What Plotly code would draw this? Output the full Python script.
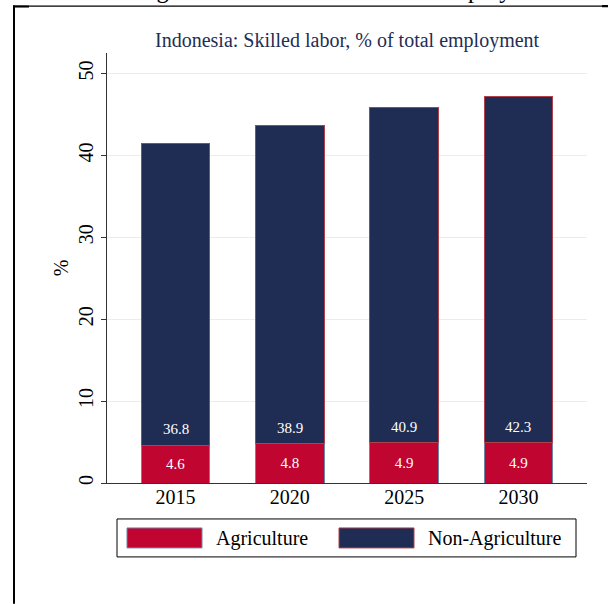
import plotly.graph_objects as go

years = ["2015", "2020", "2025", "2030"]
agriculture = [4.6, 4.8, 4.9, 4.9]
non_agriculture = [36.8, 38.9, 40.9, 42.3]
y_ticks = [0, 10, 20, 30, 40, 50]

RED = "#C00530"
NAVY = "#1F2D54"
FONT = "Liberation Serif"

W, H = 608, 604
L, R, T, B = 107, 21, 52.5, 121
PW, PH = W - L - R, H - T - B


def px(x):
    return (x - L) / PW


def py(y):
    return (H - B - y) / PH


fig = go.Figure()
fig.add_trace(go.Bar(
    x=years, y=agriculture, name="Agriculture",
    marker=dict(color=RED, line=dict(color="#6F86A8", width=1)),
    text=[f"{v:.1f}" for v in agriculture], textposition="inside",
    insidetextanchor="middle", textangle=0,
    textfont=dict(color="white", size=15, family=FONT),
    width=0.6, showlegend=False,
))
fig.add_trace(go.Bar(
    x=years, y=non_agriculture, name="Non-Agriculture",
    marker=dict(color=NAVY, line=dict(color="#B0404A", width=1)),
    width=0.6, showlegend=False,
))

shapes = []
annotations = []

# value labels at base of Non-Agriculture segment (category index on x)
for i, (a, n) in enumerate(zip(agriculture, non_agriculture)):
    annotations.append(dict(x=i, y=a, xref="x", yref="y", yanchor="bottom",
                            yshift=6, showarrow=False, text=f"{n:.1f}",
                            font=dict(color="white", size=15, family=FONT)))

# legend box
shapes.append(dict(type="rect", xref="paper", yref="paper",
                   x0=px(117), x1=px(576), y0=py(519), y1=py(557),
                   line=dict(color="black", width=1), fillcolor="white"))
shapes.append(dict(type="rect", xref="paper", yref="paper",
                   x0=px(127), x1=px(202), y0=py(528), y1=py(548),
                   line=dict(color="#6F86A8", width=1), fillcolor=RED))
shapes.append(dict(type="rect", xref="paper", yref="paper",
                   x0=px(339), x1=px(414), y0=py(528), y1=py(548),
                   line=dict(color="#B0404A", width=1), fillcolor=NAVY))
annotations.append(dict(xref="paper", yref="paper", x=px(214), y=py(539),
                        xanchor="left", yanchor="middle", showarrow=False,
                        text="Agriculture", font=dict(size=20, family=FONT, color="black")))
annotations.append(dict(xref="paper", yref="paper", x=px(426), y=py(539),
                        xanchor="left", yanchor="middle", showarrow=False,
                        text="Non-Agriculture", font=dict(size=20, family=FONT, color="black")))

# page frame
shapes.append(dict(type="rect", xref="paper", yref="paper",
                   x0=px(13), x1=px(15), y0=py(5), y1=py(604),
                   line=dict(width=0), fillcolor="black"))
shapes.append(dict(type="rect", xref="paper", yref="paper",
                   x0=px(13), x1=px(608), y0=py(5), y1=py(6.3),
                   line=dict(width=0), fillcolor="black"))
shapes.append(dict(type="rect", xref="paper", yref="paper",
                   x0=px(13), x1=px(29), y0=py(5), y1=py(7),
                   line=dict(width=0), fillcolor="black"))
shapes.append(dict(type="rect", xref="paper", yref="paper",
                   x0=px(602), x1=px(608), y0=py(4.5), y1=py(6.7),
                   line=dict(width=0), fillcolor="black"))

# cropped caption above frame
annotations.append(dict(xref="paper", yref="paper", x=px(135), y=py(3),
                        xanchor="left", yanchor="bottom", showarrow=False, borderpad=0,
                        text="Figure 4: Skilled labor in total employment",
                        font=dict(size=24.5, family=FONT, color="black")))

# chart title
annotations.append(dict(xref="paper", yref="paper", x=px(347), y=py(40),
                        xanchor="center", yanchor="middle", showarrow=False,
                        text="Indonesia: Skilled labor, % of total employment",
                        font=dict(size=20, family=FONT, color=NAVY)))

fig.update_layout(
    width=W, height=H,
    margin=dict(l=L, r=R, t=T, b=B),
    barmode="stack",
    plot_bgcolor="white", paper_bgcolor="white",
    font=dict(family=FONT, size=20, color="black"),
    shapes=shapes, annotations=annotations,
    showlegend=False,
)
fig.update_xaxes(
    type="category",
    range=[-0.6, 3.6], showline=True, linecolor="#333333", linewidth=1,
    ticks="", showgrid=False, tickfont=dict(size=20, family=FONT),
    ticklabelstandoff=-4,
)
fig.update_yaxes(
    range=[0, 52.5], tickvals=y_ticks, tickangle=-90,
    showline=True, linecolor="#333333", linewidth=1,
    ticks="outside", ticklen=5, tickcolor="#333333",
    showgrid=True, gridcolor="#E6EEF1", gridwidth=1, zeroline=False,
    tickfont=dict(size=20, family=FONT),
    title=dict(text="%", font=dict(size=20, family=FONT), standoff=1),
)

fig.write_html("out.html", config={"displayModeBar": False},
               post_script="document.body.style.margin='0';document.body.style.overflow='hidden';")
